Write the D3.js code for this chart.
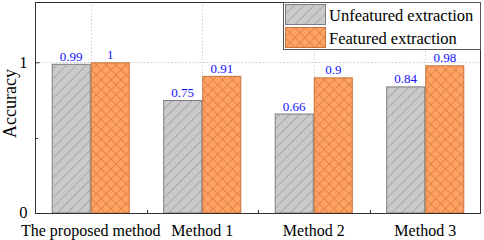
<!DOCTYPE html>
<html>
<head>
<meta charset="utf-8">
<script src="https://cdn.jsdelivr.net/npm/d3@7"></script>
<style>
  html, body { margin: 0; padding: 0; background: #fff; }
  svg { display: block; font-family: "Liberation Serif", "Times New Roman", serif; }
</style>
</head>
<body>
<svg id="chart" width="484" height="240"></svg>
<script>
const categories = ["The proposed method", "Method 1", "Method 2", "Method 3"];
const seriesNames = ["Unfeatured extraction", "Featured extraction"];
const unfeatured = [0.99, 0.75, 0.66, 0.84];
const featured = [1, 0.91, 0.9, 0.98];
const yTicks = [0, 1];
const yMinorTicks = [0.5];

const svg = d3.select("#chart");
const margin = { left: 35, right: 3, top: 2, bottom: 27 };
const W = 484, H = 240;
const x0 = margin.left, x1 = W - margin.right, yTop = margin.top, yBot = H - margin.bottom;
const serif = "'Liberation Serif', 'Times New Roman', serif";

const x = d3.scaleBand().domain(categories).range([x0, x1]).paddingInner(0.3).paddingOuter(0.15);
const xs = d3.scaleBand().domain(seriesNames).range([0, x.bandwidth()]);
const y = d3.scaleLinear().domain([0, 1.4]).range([yBot, yTop]);

// patterns
const defs = svg.append("defs");
const pg = defs.append("pattern").attr("id", "hatchGray").attr("patternUnits", "userSpaceOnUse")
  .attr("width", 7).attr("height", 7).attr("patternTransform", "rotate(45)");
pg.append("rect").attr("width", 7).attr("height", 7).attr("fill", "#cacaca");
pg.append("line").attr("x1", 0).attr("y1", 0).attr("x2", 0).attr("y2", 7).attr("stroke", "#8e8e8e").attr("stroke-width", 1.1);

const po = defs.append("pattern").attr("id", "hatchOrange").attr("patternUnits", "userSpaceOnUse")
  .attr("width", 7).attr("height", 7).attr("patternTransform", "rotate(45)");
po.append("rect").attr("width", 7).attr("height", 7).attr("fill", "#ffa262");
po.append("line").attr("x1", 0).attr("y1", 0).attr("x2", 0).attr("y2", 7).attr("stroke", "#c46c3a").attr("stroke-width", 1);
po.append("line").attr("x1", 0).attr("y1", 0).attr("x2", 7).attr("y2", 0).attr("stroke", "#c46c3a").attr("stroke-width", 1);

const fills = { "Unfeatured extraction": "url(#hatchGray)", "Featured extraction": "url(#hatchOrange)" };
const strokes = { "Unfeatured extraction": "#7c7c7c", "Featured extraction": "#c8733e" };

// grid
const grid = svg.append("g").attr("stroke", "#cfcfcf").attr("stroke-width", 1).attr("stroke-dasharray", "1.5,2");
grid.selectAll("line.v").data(categories).join("line")
  .attr("x1", d => Math.round(x(d) + x.bandwidth() / 2) + 0.5)
  .attr("x2", d => Math.round(x(d) + x.bandwidth() / 2) + 0.5)
  .attr("y1", yTop).attr("y2", yBot);
grid.selectAll("line.h").data([1]).join("line")
  .attr("x1", x0).attr("x2", x1)
  .attr("y1", d => Math.round(y(d)) + 0.5).attr("y2", d => Math.round(y(d)) + 0.5);

// bars
const rows = categories.map((c, i) => ({ cat: c, vals: [
  { s: seriesNames[0], v: unfeatured[i] },
  { s: seriesNames[1], v: featured[i] }
]}));
const groups = svg.append("g").selectAll("g").data(rows).join("g")
  .attr("transform", d => `translate(${x(d.cat)},0)`);
groups.selectAll("rect").data(d => d.vals).join("rect")
  .attr("x", d => xs(d.s) + 0.5)
  .attr("y", d => y(d.v) + 0.5)
  .attr("width", xs.bandwidth() - 1)
  .attr("height", d => yBot - y(d.v) - 0.5)
  .attr("fill", d => fills[d.s])
  .attr("stroke", d => strokes[d.s])
  .attr("stroke-width", 1);
groups.selectAll("text").data(d => d.vals).join("text")
  .attr("x", d => xs(d.s) + xs.bandwidth() / 2)
  .attr("y", d => y(d.v) - 3)
  .attr("text-anchor", "middle")
  .attr("font-size", 13)
  .attr("fill", "#1010ff")
  .text(d => String(d.v));

// frame
svg.append("rect").attr("x", x0 + 0.5).attr("y", yTop + 0.5)
  .attr("width", x1 - x0 - 1).attr("height", yBot - yTop)
  .attr("fill", "none").attr("stroke", "#333").attr("stroke-width", 1);

// y axis
const yAxis = d3.axisLeft(y).tickValues(yTicks).tickSize(-4).tickPadding(8).tickFormat(d3.format("d"));
const ya = svg.append("g").attr("transform", `translate(${x0 + 0.5},0)`).call(yAxis);
ya.attr("font-family", serif);
ya.select(".domain").remove();
ya.selectAll(".tick line").attr("stroke", "#333");
ya.selectAll(".tick text").attr("font-size", 16.5).attr("fill", "#000").attr("dy", "0.3em");
svg.append("g").selectAll("line").data(yMinorTicks).join("line")
  .attr("x1", x0).attr("x2", x0 + 3)
  .attr("y1", d => Math.round(y(d)) + 0.5).attr("y2", d => Math.round(y(d)) + 0.5)
  .attr("stroke", "#333");

// x axis
const xAxis = d3.axisBottom(x).tickSize(0).tickPadding(12);
const xa = svg.append("g").attr("transform", `translate(0,${yBot})`).call(xAxis);
xa.attr("font-family", serif);
xa.select(".domain").remove();
xa.selectAll(".tick text").attr("font-size", 16).attr("fill", "#000");
const bounds = categories.slice(1).map(c => x(c) - x.step() * x.paddingInner() / 2);
svg.append("g").selectAll("line").data(bounds).join("line")
  .attr("x1", d => Math.round(d) + 0.5).attr("x2", d => Math.round(d) + 0.5)
  .attr("y1", yBot).attr("y2", yBot - 3)
  .attr("stroke", "#333");

// y label
svg.append("text")
  .attr("transform", `translate(16,${(yTop + yBot) / 2 - 4}) rotate(-90)`)
  .attr("text-anchor", "middle")
  .attr("font-size", 18)
  .attr("fill", "#000")
  .text("Accuracy");

// legend
const lg = svg.append("g");
lg.append("rect").attr("x", 283.5).attr("y", yTop + 0.5).attr("width", x1 - 284).attr("height", 47)
  .attr("fill", "#fff").attr("stroke", "#555").attr("stroke-width", 1);
const items = lg.selectAll("g").data(seriesNames).join("g")
  .attr("transform", (d, i) => `translate(285,${4 + i * 23})`);
items.append("rect").attr("x", 0.5).attr("y", 0.5).attr("width", 40).attr("height", 20)
  .attr("fill", d => fills[d]).attr("stroke", d => strokes[d]);
items.append("text").attr("x", 44).attr("y", 16.5)
  .attr("font-size", 16.5).attr("fill", "#000").text(d => d);
</script>
</body>
</html>
